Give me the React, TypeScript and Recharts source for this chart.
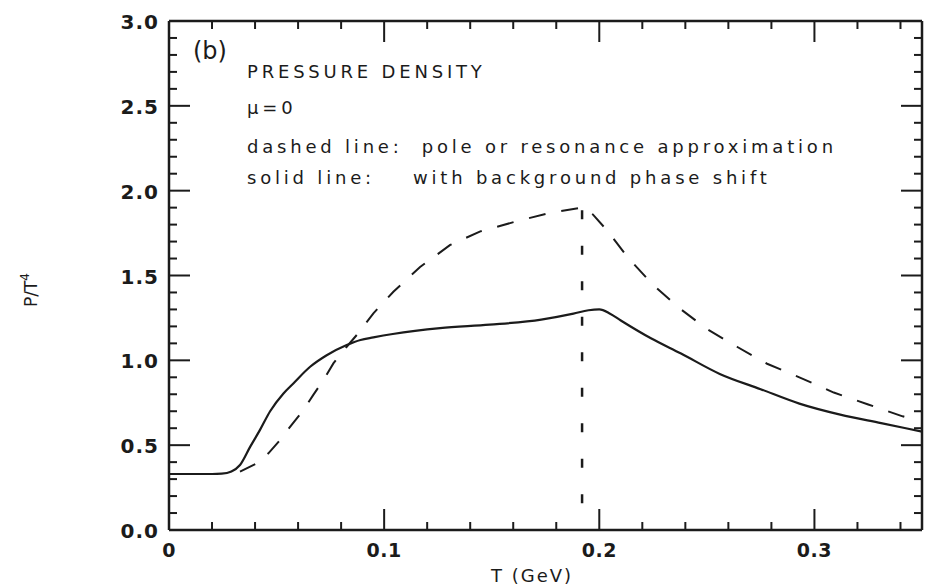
import React from 'react';
import { LineChart, Line, XAxis, YAxis, ReferenceLine } from 'recharts';

// Pressure density P/T^4 vs temperature, mu = 0.
const INK = '#1b1b1b';
const FONT = '"DejaVu Sans", sans-serif';

// solid: with background phase shift
const SOLID_T = [0, 0.01, 0.02, 0.0245, 0.029, 0.033, 0.0377, 0.0423, 0.047, 0.0532, 0.0578, 0.0656, 0.0733, 0.0826, 0.089, 0.095, 0.104, 0.126, 0.149, 0.173, 0.188, 0.195, 0.2, 0.205, 0.21, 0.224, 0.238, 0.256, 0.275, 0.293, 0.312, 0.331, 0.35];
const SOLID_P = [0.33, 0.33, 0.33, 0.332, 0.345, 0.383, 0.49, 0.59, 0.7, 0.805, 0.864, 0.962, 1.03, 1.09, 1.12, 1.135, 1.155, 1.19, 1.21, 1.24, 1.275, 1.295, 1.3, 1.275, 1.235, 1.13, 1.04, 0.92, 0.83, 0.745, 0.68, 0.63, 0.58];

// dashed: pole or resonance approximation
const DASHED_T = [0.033, 0.0408, 0.0462, 0.0516, 0.057, 0.0625, 0.067, 0.0718, 0.0764, 0.0826, 0.0873, 0.095, 0.1043, 0.1167, 0.1307, 0.1447, 0.1617, 0.1772, 0.192, 0.197, 0.204, 0.213, 0.225, 0.238, 0.25, 0.264, 0.278, 0.293, 0.309, 0.325, 0.341, 0.345];
const DASHED_P = [0.344, 0.393, 0.452, 0.53, 0.62, 0.707, 0.795, 0.884, 0.982, 1.08, 1.15, 1.277, 1.404, 1.55, 1.68, 1.76, 1.82, 1.87, 1.9, 1.86, 1.76, 1.61, 1.445, 1.3, 1.185, 1.08, 0.98, 0.9, 0.81, 0.74, 0.67, 0.655];

const X_TICKS = [0, 0.02, 0.04, 0.06, 0.08, 0.1, 0.12, 0.14, 0.16, 0.18, 0.2, 0.22, 0.24, 0.26, 0.28, 0.3, 0.32, 0.34];
const X_LABELED = [0, 0.1, 0.2, 0.3];
const Y_TICKS = [0, 0.1, 0.2, 0.3, 0.4, 0.5, 0.6, 0.7, 0.8, 0.9, 1.0, 1.1, 1.2, 1.3, 1.4, 1.5, 1.6, 1.7, 1.8, 1.9, 2.0, 2.1, 2.2, 2.3, 2.4, 2.5, 2.6, 2.7, 2.8, 2.9, 3.0];
const Y_LABELED = [0, 0.5, 1.0, 1.5, 2.0, 2.5, 3.0];

const NOTES = [
  'PRESSURE DENSITY',
  'μ=0',
  'dashed line:  pole or resonance approximation',
  'solid line:    with background phase shift',
];

const solid = SOLID_T.map((t, i) => ({ t, p: SOLID_P[i] }));
const dashed = DASHED_T.map((t, i) => ({ t, p: DASHED_P[i] }));

// the vertical marker drops from the top of the dashed curve
const peakIdx = DASHED_P.indexOf(Math.max(...DASHED_P));
const PEAK_T = DASHED_T[peakIdx];
const PEAK_P = DASHED_P[peakIdx];

const isIn = (list: number[], v: number) => list.some((m) => Math.abs(m - v) < 1e-9);
const MAJOR = 21;
const MINOR = 8;

function BottomTick({ x, y, payload }: any) {
  const major = isIn(X_LABELED, payload.value);
  return (
    <g>
      <line x1={x} x2={x} y1={y} y2={y - (major ? MAJOR : MINOR)} stroke={INK} strokeWidth={2} />
      {major && (
        <text x={x} y={y + 27} textAnchor="middle" fontFamily={FONT} fontWeight="bold" fontSize={19} letterSpacing={0.5} fill={INK}>
          {payload.value === 0 ? '0' : payload.value.toFixed(1)}
        </text>
      )}
    </g>
  );
}

function TopTick({ x, y, payload }: any) {
  const major = isIn(X_LABELED, payload.value);
  return <line x1={x} x2={x} y1={y} y2={y + (major ? MAJOR : MINOR)} stroke={INK} strokeWidth={2} />;
}

function LeftTick({ x, y, payload }: any) {
  const major = isIn(Y_LABELED, payload.value);
  return (
    <g>
      <line x1={x} x2={x + (major ? MAJOR : MINOR)} y1={y} y2={y} stroke={INK} strokeWidth={2} />
      {major && (
        <text x={x - 10} y={y + 8} textAnchor="end" fontFamily={FONT} fontWeight="bold" fontSize={20} letterSpacing={1} fill={INK}>
          {payload.value.toFixed(1)}
        </text>
      )}
    </g>
  );
}

function RightTick({ x, y, payload }: any) {
  const major = isIn(Y_LABELED, payload.value);
  return <line x1={x} x2={x - (major ? MAJOR : MINOR)} y1={y} y2={y} stroke={INK} strokeWidth={2} />;
}

export default function App() {
  return (
    <div style={{ position: 'relative', width: 932, height: 587, background: '#fff' }}>
      <style>{'body{margin:0}'}</style>
      <LineChart width={932} height={587} margin={{ top: 20, right: 9, bottom: 0, left: 0 }}>
        <XAxis
          xAxisId="b" dataKey="t" type="number" domain={[0, 0.35]} ticks={X_TICKS} interval={0}
          height={57} tickSize={0} tickMargin={0} tick={BottomTick} axisLine={{ stroke: INK, strokeWidth: 2.5 }}
          allowDataOverflow
        />
        <XAxis
          xAxisId="t" orientation="top" dataKey="t" type="number" domain={[0, 0.35]} ticks={X_TICKS} interval={0}
          height={1} tickSize={0} tickMargin={0} tick={TopTick} axisLine={{ stroke: INK, strokeWidth: 2.5 }}
          allowDataOverflow
        />
        <YAxis
          yAxisId="l" type="number" domain={[0, 3]} ticks={Y_TICKS} interval={0}
          width={169} tickSize={0} tickMargin={0} tick={LeftTick} axisLine={{ stroke: INK, strokeWidth: 2.5 }}
          allowDataOverflow
        />
        <YAxis
          yAxisId="r" orientation="right" type="number" domain={[0, 3]} ticks={Y_TICKS} interval={0}
          width={1} tickSize={0} tickMargin={0} tick={RightTick} axisLine={{ stroke: INK, strokeWidth: 2.5 }}
          allowDataOverflow
        />
        {/* keeps the mirrored frame axes bound to data */}
        <Line xAxisId="t" yAxisId="r" data={solid} dataKey="p" stroke="none" dot={false} isAnimationActive={false} />
        <ReferenceLine
          xAxisId="b" yAxisId="l"
          segment={[{ x: PEAK_T, y: PEAK_P }, { x: PEAK_T, y: 0 }]}
          stroke={INK} strokeWidth={2.5} strokeDasharray="9 26.5" strokeDashoffset={-38}
        />
        <Line
          xAxisId="b" yAxisId="l" data={dashed} dataKey="p" type="linear"
          stroke={INK} strokeWidth={2} strokeDasharray="17 16" dot={false} isAnimationActive={false}
        />
        <Line
          xAxisId="b" yAxisId="l" data={solid} dataKey="p" type="monotone"
          stroke={INK} strokeWidth={2.2} dot={false} isAnimationActive={false}
        />
      </LineChart>
      <svg width={932} height={587} style={{ position: 'absolute', left: 0, top: 0, pointerEvents: 'none' }}>
        <text x={193} y={59} fontFamily={FONT} fontSize={24} fill={INK}>(b)</text>
        {NOTES.map((s, i) => (
          <text
            key={s} x={247} y={[78, 114, 153, 184][i]} fontFamily={FONT} fontSize={18} letterSpacing={3.8}
            fill={INK} style={{ whiteSpace: 'pre' }}
          >
            {s}
          </text>
        ))}
        <text x={532} y={582} textAnchor="middle" fontFamily={FONT} fontSize={18} letterSpacing={2} fill={INK} style={{ whiteSpace: 'pre' }}>
          T (GeV)
        </text>
        <text transform="translate(37,290) rotate(-90)" textAnchor="middle" fontFamily={FONT} fontSize={17} fill={INK}>
          P/T<tspan dy={-8} fontSize={12}>4</tspan>
        </text>
      </svg>
    </div>
  );
}
